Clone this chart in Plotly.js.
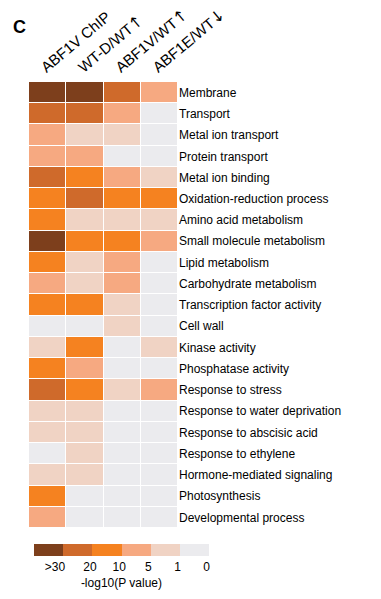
<!DOCTYPE html>
<html><head><meta charset="utf-8">
<script src="https://cdn.plot.ly/plotly-3.0.1.min.js"></script>
<style>html,body{margin:0;padding:0;background:#fff}#chart{width:381px;height:599px}</style>
</head><body><div id="chart"></div>
<script>
const categories = ['Membrane','Transport','Metal ion transport','Protein transport','Metal ion binding',
  'Oxidation-reduction process','Amino acid metabolism','Small molecule metabolism','Lipid metabolism',
  'Carbohydrate metabolism','Transcription factor activity','Cell wall','Kinase activity','Phosphatase activity',
  'Response to stress','Response to water deprivation','Response to abscisic acid','Response to ethylene',
  'Hormone-mediated signaling','Photosynthesis','Developmental process'];
const columns = ['ABF1V ChIP','WT-D/WT\u2191','ABF1V/WT\u2191','ABF1E/WT\u2193'];
const binLabels = ['>30','20','10','5','1','0'];
const binColors = ['#7d3f1c','#cf6a2b','#f58220','#f6a981','#f0d3c4','#ebebee'];
// -log10(P) bin for each category, per column
const abf1vChip = ['>30','20','5','5','20','10','10','>30','10','5','10','0','1','10','20','1','1','0','1','10','5'];
const wtD       = ['>30','20','1','5','10','20','1','10','1','1','10','0','10','5','10','1','1','1','1','0','0'];
const abf1vWt   = ['20','5','1','0','5','10','1','10','5','5','1','1','0','0','1','0','0','0','0','0','0'];
const abf1eWt   = ['5','0','0','0','1','10','1','5','0','0','0','0','1','0','5','0','0','0','0','0','0'];

const cols = [abf1vChip, wtD, abf1vWt, abf1eWt];
const z = categories.map((c,i)=>cols.map(col=>binLabels.indexOf(col[i])));
const n = binColors.length;
const colorscale = [];
binColors.forEach((c,i)=>{colorscale.push([i/n,c]);colorscale.push([(i+1)/n,c]);});
const colTickText = columns.map(c=>c.replace(/([\u2191\u2193])/g,'<span style="font-family:DejaVu Sans;font-size:16px">$1</span>'));

const W=381,H=599;
const trace = {
  type:'heatmap', x:columns, y:categories, z:z,
  zmin:-0.5, zmax:n-0.5, colorscale:colorscale, xgap:1, ygap:1, hoverinfo:'skip',
  colorbar:{orientation:'h', xref:'container', yref:'container', x:0.228, xanchor:'left',
    y:1-544/H, yanchor:'top', thickness:12, len:175, lenmode:'pixels', xpad:0, ypad:0,
    outlinewidth:0, ticks:'', tickvals:binLabels.map((b,i)=>i===0?0.22:i+0.42), ticktext:binLabels,
    tickfont:{family:'Liberation Sans, Arial', size:12, color:'#000'},
    title:{text:'-log10(P value)', side:'bottom', font:{family:'Liberation Sans, Arial', size:12, color:'#000'}}}
};
const layout = {
  width:W, height:H, paper_bgcolor:'#fff', plot_bgcolor:'#fff',
  margin:{l:29, r:W-178, t:82, b:H-528},
  font:{family:'Liberation Sans, Arial', color:'#000'},
  xaxis:{side:'top', tickangle:-40, ticks:'', showgrid:false, zeroline:false, showline:false,
    tickmode:'array', tickvals:columns, ticktext:colTickText,
    ticklabelshift:-6, ticklabelstandoff:3,
    tickfont:{size:15, family:'Liberation Sans, Arial'}, fixedrange:true},
  yaxis:{side:'right', autorange:'reversed', ticks:'', showgrid:false, zeroline:false, showline:false,
    tickfont:{size:12}, fixedrange:true},
  annotations:[{text:'<b>C</b>', xref:'paper', yref:'paper', x:(19-29)/149, y:(528-27)/446,
    showarrow:false, font:{size:18, family:'Liberation Sans, Arial'}, xanchor:'center', yanchor:'middle'}]
};
Plotly.newPlot('chart',[trace],layout,{displayModeBar:false,staticPlot:true});
</script></body></html>
